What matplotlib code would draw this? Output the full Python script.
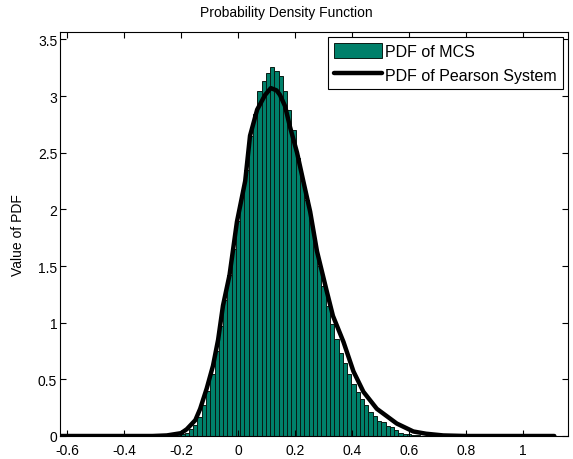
import numpy as np
import matplotlib
matplotlib.use("Agg")
import matplotlib.pyplot as plt

plt.rcParams['font.family'] = ['Liberation Sans', 'DejaVu Sans']

# ---- data ----
bin_width = 0.015
# histogram bin centres (MCS), full range shown on the axis
mcs_centers = np.round(np.arange(-0.615, 1.156, bin_width), 4)
# non-zero part of the histogram (centres -0.24 ... 0.675)
nz_start = -0.24
mcs_nonzero = [
    0.005, 0.01, 0.015, 0.02, 0.03, 0.06, 0.10, 0.17, 0.27, 0.40,
    0.55, 0.75, 0.97, 1.20, 1.42, 1.65, 1.90, 2.12, 2.35, 2.65,
    2.84, 3.04, 3.13, 3.20, 3.26, 3.22, 3.18, 3.04, 2.88, 2.70,
    2.45, 2.25, 2.08, 1.88, 1.68, 1.50, 1.32, 1.15, 0.99, 0.86,
    0.73, 0.64, 0.55, 0.46, 0.39, 0.33, 0.27, 0.21, 0.18, 0.13,
    0.12, 0.09, 0.08, 0.05, 0.03, 0.02, 0.015, 0.01, 0.006, 0.004,
    0.002, 0.001,
]
mcs_density = np.zeros(len(mcs_centers))
i0 = int(np.argmin(np.abs(mcs_centers - nz_start)))
mcs_density[i0:i0 + len(mcs_nonzero)] = mcs_nonzero

pearson_x = [-0.625, -0.3, -0.25, -0.2, -0.18, -0.15, -0.133, -0.11, -0.088,
             -0.07, -0.053, -0.03, -0.004, 0.025, 0.042, 0.067, 0.095, 0.115,
             0.135, 0.147, 0.165, 0.182, 0.207, 0.228, 0.253, 0.277, 0.312,
             0.333, 0.37, 0.405, 0.44, 0.487, 0.557, 0.615, 0.66, 0.72, 0.8,
             1.11]
pearson_y = [0, 0, 0.005, 0.025, 0.06, 0.14, 0.24, 0.42, 0.62,
             0.85, 1.15, 1.42, 1.89, 2.25, 2.65, 2.88, 3.01, 3.07,
             3.05, 3.01, 2.91, 2.73, 2.50, 2.26, 1.98, 1.63, 1.27,
             1.06, 0.83, 0.57, 0.39, 0.24, 0.11, 0.04, 0.02, 0.005, 0,
             0]

xticks = [-0.6, -0.4, -0.2, 0, 0.2, 0.4, 0.6, 0.8, 1]
xticklabels = ['-0.6', '-0.4', '-0.2', '0', '0.2', '0.4', '0.6', '0.8', '1']
yticks = [0, 0.5, 1, 1.5, 2, 2.5, 3, 3.5]
yticklabels = ['0', '0.5', '1', '1.5', '2', '2.5', '3', '3.5']

# ---- figure ----
fig = plt.figure(figsize=(5.73, 4.60), dpi=100)
ax = fig.add_axes([60 / 573, 23 / 460, 508 / 573, 404 / 460])

bars = ax.bar(mcs_centers, mcs_density, width=bin_width, color='#00806a',
              edgecolor='#0a1a14', linewidth=0.7, label='PDF of MCS')
line, = ax.plot(pearson_x, pearson_y, color='black', linewidth=3.2,
                label='PDF of Pearson System', solid_capstyle='round')

ax.set_xlim(-0.625, 1.158)
ax.set_ylim(0, 3.565)
ax.set_xticks(xticks)
ax.set_xticklabels(xticklabels)
ax.set_yticks(yticks)
ax.set_yticklabels(yticklabels)
ax.tick_params(direction='in', length=4, width=0.8, top=True, right=True,
               labelsize=10)
ax.tick_params(axis='x', pad=5)
ax.tick_params(axis='y', pad=2)
for s in ax.spines.values():
    s.set_linewidth(0.8)

ax.set_ylabel('Value of PDF', fontsize=10, labelpad=9)
fig.text(286 / 573, 1 - 13 / 460, 'Probability Density Function',
         ha='center', va='center', fontsize=10)

leg = ax.legend(handles=[bars, line], loc='upper right', fontsize=11.5,
                fancybox=False, edgecolor='black', framealpha=1,
                borderaxespad=0.3, handlelength=3.0, handleheight=1.05,
                handletextpad=0.2, borderpad=0.4, labelspacing=0.5)
leg.get_frame().set_linewidth(0.8)

fig.savefig('out.png', dpi=100)
